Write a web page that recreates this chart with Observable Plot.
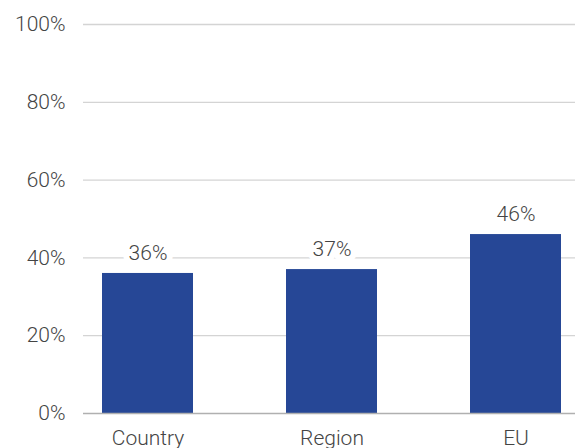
<!DOCTYPE html>
<html>
<head>
<meta charset="utf-8">
<script src="https://cdn.jsdelivr.net/npm/d3@7"></script>
<script src="https://cdn.jsdelivr.net/npm/@observablehq/plot@0.6"></script>
<style>
  html, body { margin: 0; padding: 0; background: #fff; }
  #chart svg { display: block; }
</style>
</head>
<body>
<div id="chart"></div>
<script>
const categories = ["Country", "Region", "EU"];
const values = [36, 37, 46];
const yTicks = [0, 20, 40, 60, 80, 100];
const gridTicks = [20, 40, 60, 80, 100];

const data = categories.map((c, i) => ({category: c, value: values[i]}));

const chart = Plot.plot({
  width: 575,
  height: 448,
  marginLeft: 83,
  marginRight: 0,
  marginTop: 24,
  marginBottom: 35,
  style: {fontFamily: "Roboto, 'Liberation Sans', sans-serif", fontSize: "21px", fontWeight: 300, color: "#444", background: "#fff"},
  x: {domain: categories, range: [83, 579], paddingInner: 0.507, paddingOuter: 0.0976, label: null},
  y: {domain: [0, 100], label: null},
  marks: [
    Plot.ruleY(gridTicks, {stroke: "#d4d4d4", strokeWidth: 1.3}),
    Plot.barY(data, {x: "category", y: "value", fill: "#264796"}),
    Plot.ruleY([0], {stroke: "#b0b0b0", strokeWidth: 1.3}),
    Plot.text(data, {
      x: "category", y: "value", text: d => d.value + "%",
      dy: -20, lineAnchor: "middle", textAnchor: "middle",
      fill: "#444", stroke: "white", strokeWidth: 12, fontSize: 21
    }),
    Plot.axisY({ticks: yTicks, tickFormat: d => d + "%", tickSize: 0, tickPadding: 18, fontSize: 21, fill: "#444"}),
    Plot.axisX({tickSize: 0, tickPadding: 17, fontSize: 21, fill: "#444"})
  ]
});
document.getElementById("chart").appendChild(chart);
</script>
</body>
</html>
